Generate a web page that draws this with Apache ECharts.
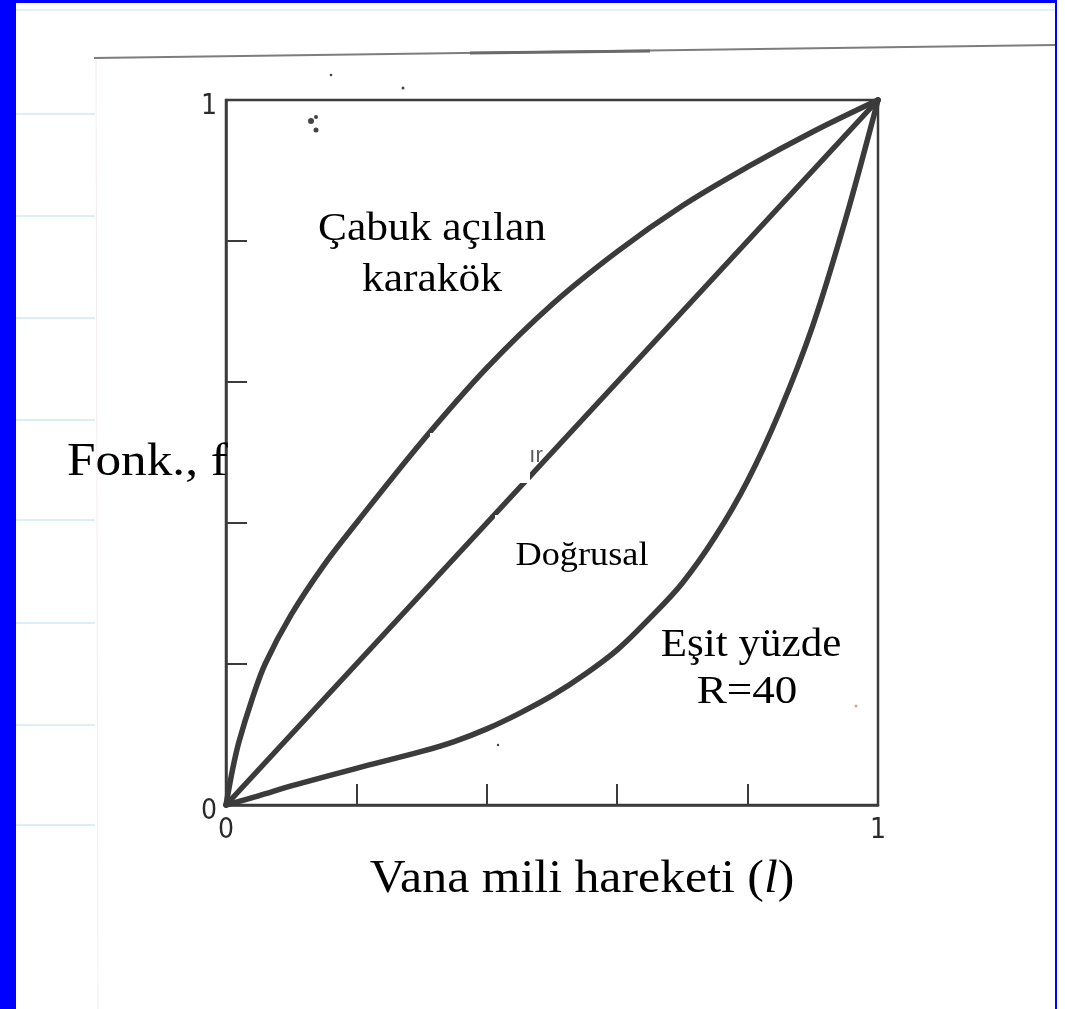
<!DOCTYPE html>
<html>
<head>
<meta charset="utf-8">
<script src="https://cdn.jsdelivr.net/npm/echarts@6/dist/echarts.min.js"></script>
<style>
  html, body { margin: 0; padding: 0; background: #ffffff; }
  #chart { width: 1065px; height: 1009px; }
</style>
</head>
<body>
<div id="chart"></div>
<script>
// Valve stem travel (l) vs. flow function (f) for three inherent characteristics
const quickOpenL = [0, 0.01, 0.02, 0.04, 0.06, 0.1, 0.15, 0.2, 0.3, 0.4, 0.5, 0.6, 0.7, 0.8, 0.9, 1.0];
const quickOpenF = [0, 0.05, 0.09, 0.15, 0.2, 0.27, 0.34, 0.40, 0.515, 0.62, 0.71, 0.785, 0.85, 0.905, 0.955, 1.0];

const linearL = [0, 1];
const linearF = [0, 1];

const equalPctL = [0, 0.05, 0.1, 0.2, 0.3, 0.35, 0.4, 0.45, 0.5, 0.55, 0.6, 0.65, 0.7, 0.75, 0.8, 0.85, 0.9, 0.95, 1.0];
const equalPctF = [0, 0.013, 0.027, 0.052, 0.076, 0.09, 0.108, 0.13, 0.155, 0.185, 0.22, 0.265, 0.315, 0.38, 0.46, 0.56, 0.68, 0.83, 1.0];

const axisTickLabels = ['0', '1'];

const pairs = (xs, ys) => xs.map((x, i) => [x, ys[i]]);

const INK = '#3b3b3b';
const SERIF = '"Liberation Serif", "Times New Roman", serif';
const TICKFONT = '"Liberation Sans Narrow", "DejaVu Sans Condensed", sans-serif';

const tickText = v => {
  const s = String(Math.round(v * 1000) / 1000);
  return axisTickLabels.indexOf(s) >= 0 ? s : '';
};

const chart = echarts.init(document.getElementById('chart'), null, { renderer: 'canvas' });

// notebook ruling visible left of the scanned page
const ruleYs = [114, 216, 318, 420, 520, 623, 725, 825];
const ruling = ruleYs.map(y => ({
  type: 'line', silent: true, z: -5,
  shape: { x1: 16, y1: y, x2: 95, y2: y },
  style: { stroke: '#b9dcee', lineWidth: 1 }
}));

const specks = [
  [311, 121, 3], [316, 117, 2], [316, 130, 2.5], [331, 75, 1.3], [403, 88, 1.5],
  [498, 745, 1.2], [856, 706, 1.5]
].map(([x, y, r], i) => ({
  type: 'circle', silent: true, z: 50,
  shape: { cx: x, cy: y, r: r },
  style: { fill: i === 6 ? '#e8a070' : '#444' }
}));

// caption text; sx widens the glyphs slightly
const label = (text, x, y, size, align, sx, extra) => Object.assign({
  type: 'text', silent: true, z: 120, x: x, y: y, scaleX: sx || 1,
  style: Object.assign({
    text: text, fill: '#000', font: size + 'px ' + SERIF,
    align: align || 'center', verticalAlign: 'middle'
  }, extra || {})
});

const whiteBox = (x, y, w, h) => ({
  type: 'rect', silent: true, z: 110,
  shape: { x: x, y: y, width: w, height: h },
  style: { fill: '#ffffff' }
});

const curveStyle = { color: INK, width: 5.5, cap: 'round', join: 'round' };

chart.setOption({
  backgroundColor: '#ffffff',
  animation: false,
  grid: {
    left: 226, top: 100, width: 652, height: 705,
    containLabel: false, outerBoundsMode: 'none',
    show: true, borderColor: INK, borderWidth: 2.5, backgroundColor: 'transparent'
  },
  xAxis: {
    type: 'value', min: 0, max: 1, interval: 0.2,
    axisLine: { show: true, onZero: false, lineStyle: { color: INK, width: 2.5 } },
    axisTick: { show: true, inside: true, length: 21, lineStyle: { color: INK, width: 2 } },
    splitLine: { show: false },
    axisLabel: {
      show: true, margin: 12, color: '#2a2a2a', fontSize: 28, fontFamily: TICKFONT,
      formatter: tickText
    }
  },
  yAxis: {
    type: 'value', min: 0, max: 1, interval: 0.2,
    axisLine: { show: true, onZero: false, lineStyle: { color: INK, width: 2.5 } },
    axisTick: { show: true, inside: true, length: 21, lineStyle: { color: INK, width: 2 } },
    splitLine: { show: false },
    axisLabel: {
      show: true, margin: 9, color: '#2a2a2a', fontSize: 28, fontFamily: TICKFONT,
      formatter: v => {
        const s = tickText(v);
        return s ? '{d|' + s + '}' : '';
      },
      rich: {
        d: {
          fontSize: 28, fontFamily: TICKFONT, color: '#2a2a2a',
          padding: [14, 0, 0, 0]
        }
      }
    }
  },
  series: [
    {
      name: 'Çabuk açılan', type: 'line', data: pairs(quickOpenL, quickOpenF),
      smooth: 0.35, showSymbol: false, clip: false, lineStyle: curveStyle
    },
    {
      name: 'Doğrusal', type: 'line', data: pairs(linearL, linearF),
      showSymbol: false, clip: false, lineStyle: curveStyle
    },
    {
      name: 'Eşit yüzde', type: 'line', data: pairs(equalPctL, equalPctF),
      smooth: 0.35, showSymbol: false, clip: false, lineStyle: curveStyle
    }
  ],
  graphic: [
    // blue slide frame
    { type: 'rect', silent: true, z: 200, shape: { x: 0, y: 0, width: 16, height: 1009 }, style: { fill: '#0000ff' } },
    { type: 'rect', silent: true, z: 200, shape: { x: 0, y: 0, width: 1057, height: 3 }, style: { fill: '#0000ff' } },
    { type: 'rect', silent: true, z: 200, shape: { x: 1055, y: 0, width: 2, height: 1009 }, style: { fill: '#0000ff' } },
    // faint ruling across the top
    { type: 'line', silent: true, z: -5, shape: { x1: 16, y1: 10, x2: 1055, y2: 10 }, style: { stroke: '#c6e4f2', lineWidth: 1 } },
    ...ruling,
    // page edges
    { type: 'line', silent: true, z: -4, shape: { x1: 94, y1: 58, x2: 1055, y2: 45 }, style: { stroke: '#7d7d7d', lineWidth: 2 } },
    { type: 'line', silent: true, z: -4, shape: { x1: 470, y1: 53, x2: 650, y2: 51 }, style: { stroke: '#6a6a6a', lineWidth: 3 } },
    { type: 'line', silent: true, z: -4, shape: { x1: 96, y1: 60, x2: 98, y2: 1009 }, style: { stroke: '#f4ecef', lineWidth: 1 } },
    ...specks,
    // label backgrounds pasted over the drawing
    whiteBox(305, 203, 240, 98),
    whiteBox(430, 433, 100, 50),
    whiteBox(495, 515, 158, 62),
    // remnant of the original print
    label('ır', 536, 456, 22, 'center', 1, { font: '22px "Liberation Sans", sans-serif', fill: '#5a5a5a' }),
    label('Çabuk açılan', 432, 229, 41, 'center', 1.06),
    label('karakök', 432, 280, 41, 'center', 1.06),
    label('Fonk., f', 67, 463, 47, 'left', 1.09),
    label('Doğrusal', 582, 556, 33, 'center', 1.1),
    label('Eşit yüzde', 751, 645, 41, 'center', 1.05),
    label('R=40', 747, 692, 41, 'center', 1.1),
    {
      type: 'text', silent: true, z: 120, x: 582, y: 880, scaleX: 1.06,
      style: {
        text: 'Vana mili hareketi ({it|l})', fill: '#000',
        font: '47px ' + SERIF, align: 'center', verticalAlign: 'middle',
        rich: { it: { font: 'italic 47px ' + SERIF, fill: '#000' } }
      }
    }
  ]
});
</script>
</body>
</html>
